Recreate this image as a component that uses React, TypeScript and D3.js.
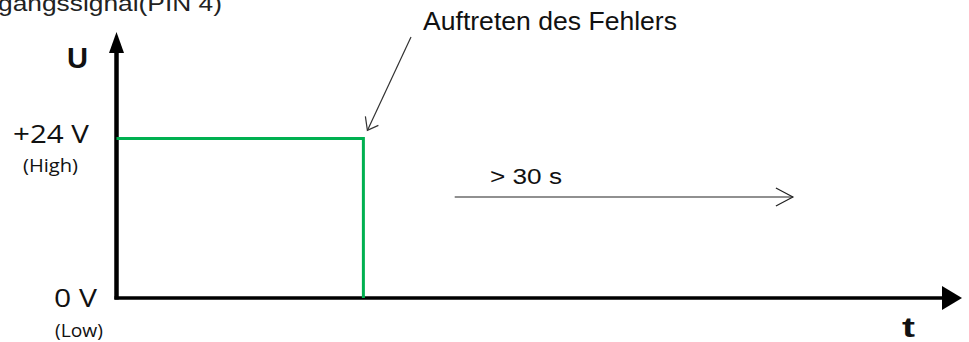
import React from "react";
import * as d3 from "d3";

// ---- data ----
const signalTimes = [0, 29.2, 29.2];
const signalVolts = [24, 24, 0];
const yTickValues = [24, 0];
const yTickLabels = ["+24 V", "0 V"];
const yTickSubLabels = ["(High)", "(Low)"];
const durationStart = 40;
const durationEnd = 80;
const durationLabel = "> 30 s";
const errorLabel = "Auftreten des Fehlers";
const titleLabel = "gangssignal(PIN 4)";
const yAxisLabel = "U";
const xAxisLabel = "t";

const W = 969;
const H = 342;

export default function App() {
  const x = d3.scaleLinear().domain([0, 100]).range([116.5, 962]);
  const y = d3.scaleLinear().domain([0, 40]).range([298, 32]);

  const signal = signalTimes.map((t, i) => [x(t), y(signalVolts[i])] as [number, number]);
  const line = d3.line<[number, number]>();

  const x0 = x(0);
  const y0 = y(0);
  const yTop = y(40);
  const xEnd = x(100);

  const errX = x(signalTimes[1]);
  const errY = y(signalVolts[1]);

  const durY = 197;
  const dx1 = x(durationStart);
  const dx2 = x(durationEnd);

  const font = "'Liberation Sans', Arial, sans-serif";
  const font2 = "'Open Sans', 'Noto Sans', sans-serif";
  const ink = "#111";

  const tickMain = [
    { xr: 89, dy: 5, len: 76 },
    { xr: 97, dy: 9, len: 43 },
  ];
  const tickSub = [
    { xl: 23, dy: 34, len: 55 },
    { xl: 55, dy: 39, len: 48 },
  ];

  return (
    <svg
      width={W}
      height={H}
      style={{ position: "absolute", left: 0, top: 0, background: "#fff" }}
    >
      <rect x={0} y={0} width={W} height={H} fill="#fff" />
      {/* title (cut off at the top-left as in the source) */}
      <text x={-2} y={11} fontFamily={font} fontSize={22} fill="#222" textLength={224} lengthAdjust="spacingAndGlyphs">
        {titleLabel}
      </text>

      {/* y axis */}
      <line x1={x0} y1={y0 + 1.5} x2={x0} y2={yTop + 18} stroke="#000" strokeWidth={4.5} />
      <path
        d={`M${x0},${yTop} L${x0 - 7.5},${yTop + 21} L${x0 + 7.5},${yTop + 21} Z`}
        fill="#000"
      />
      {/* x axis */}
      <line x1={x0 - 2} y1={y0} x2={xEnd - 18} y2={y0} stroke="#000" strokeWidth={3.5} />
      <path
        d={`M${xEnd},${y0} L${xEnd - 20},${y0 - 12} L${xEnd - 20},${y0 + 12} Z`}
        fill="#000"
      />

      {/* axis labels */}
      <text x={67} y={68} fontFamily={font} fontSize={29} fontWeight="bold" fill={ink} textLength={21} lengthAdjust="spacingAndGlyphs">
        {yAxisLabel}
      </text>
      <text x={902} y={337} fontFamily={font} fontSize={28} fontWeight="bold" fill={ink} textLength={13} lengthAdjust="spacingAndGlyphs">
        {xAxisLabel}
      </text>

      {/* y tick labels */}
      {yTickValues.map((v, i) => (
        <g key={i}>
          <text
            x={tickMain[i].xr - tickMain[i].len}
            y={y(v) + tickMain[i].dy}
            fontFamily={font2}
            fontSize={25}
            fill={ink}
            textLength={tickMain[i].len}
            lengthAdjust="spacingAndGlyphs"
          >
            {yTickLabels[i]}
          </text>
          <text
            x={tickSub[i].xl}
            y={y(v) + tickSub[i].dy}
            fontFamily={font2}
            fontSize={18}
            fill={ink}
            textLength={tickSub[i].len}
            lengthAdjust="spacingAndGlyphs"
          >
            {yTickSubLabels[i]}
          </text>
        </g>
      ))}

      {/* signal */}
      <path d={line(signal) || ""} fill="none" stroke="#00b050" strokeWidth={3} />

      {/* error annotation */}
      <text x={423} y={30} fontFamily={font} fontSize={25} fill={ink} textLength={254} lengthAdjust="spacingAndGlyphs">
        {errorLabel}
      </text>
      <path
        d={`M411,37 L${errX + 4},${errY - 8}`}
        fill="none"
        stroke="#333"
        strokeWidth={1.2}
      />
      <path
        d={`M${errX + 2},${errY - 22} L${errX + 4},${errY - 8} L${errX + 15},${errY - 13}`}
        fill="none"
        stroke="#333"
        strokeWidth={1.2}
      />

      {/* duration arrow */}
      <text x={490} y={184} fontFamily={font} fontSize={22} fill={ink} textLength={72} lengthAdjust="spacingAndGlyphs">
        {durationLabel}
      </text>
      <line x1={dx1} y1={durY} x2={dx2} y2={durY} stroke="#222" strokeWidth={1.2} />
      <path
        d={`M${dx2 - 17},${durY - 9} L${dx2},${durY} L${dx2 - 17},${durY + 9}`}
        fill="none"
        stroke="#222"
        strokeWidth={1.2}
      />
    </svg>
  );
}
